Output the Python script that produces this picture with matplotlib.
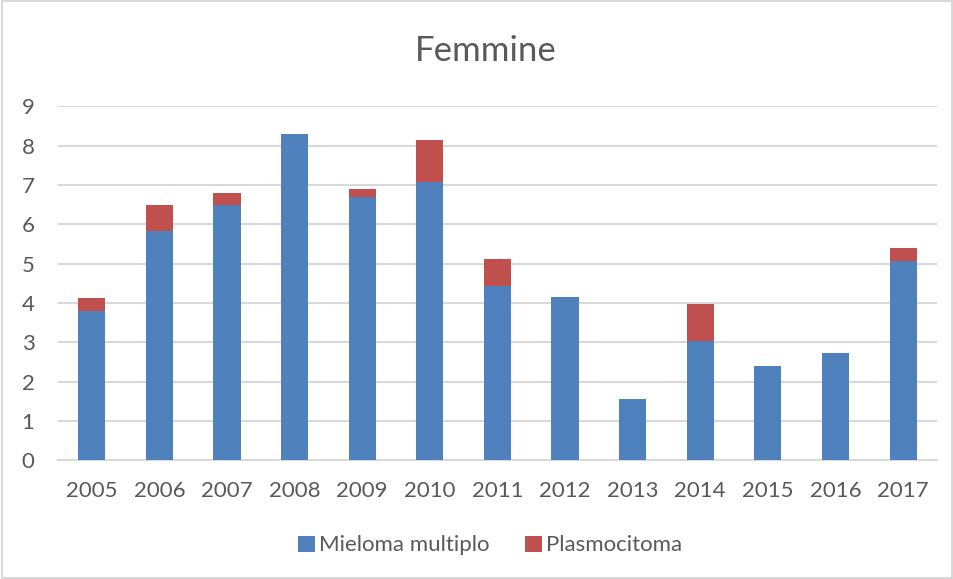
import matplotlib
matplotlib.use('Agg')
import matplotlib.pyplot as plt
import numpy as np

plt.rcParams['font.family'] = ['Lato', 'DejaVu Sans']

YEARS = ['2005', '2006', '2007', '2008', '2009', '2010', '2011',
         '2012', '2013', '2014', '2015', '2016', '2017']
# valori
MIELOMA = [3.81, 5.84, 6.48, 8.30, 6.69, 7.08, 4.44, 4.16, 1.55, 3.03, 2.41, 2.72, 5.08]
PLASMOCITOMA = [0.33, 0.65, 0.32, 0.0, 0.22, 1.06, 0.69, 0.0, 0.0, 0.94, 0.0, 0.0, 0.32]

BLUE = '#4f81bd'
RED = '#c0504d'
GRID = '#d9d9d9'
TEXT = '#595959'

fig = plt.figure(figsize=(9.54, 5.79), dpi=100)
ax = fig.add_axes([0.0608, 0.2047, 0.9212, 0.6117])

x = np.arange(len(YEARS))
w = 0.4
ax.bar(x, MIELOMA, width=w, color=BLUE, label='Mieloma multiplo', zorder=3)
ax.bar(x, PLASMOCITOMA, width=w, bottom=MIELOMA, color=RED, label='Plasmocitoma', zorder=3)

ax.set_xlim(-0.5, len(YEARS) - 0.5)
ax.set_ylim(0, 9)
ax.set_yticks(range(10))
ax.set_xticks(x)
ax.set_xticklabels(YEARS)
ax.tick_params(axis='both', length=0, labelsize=16, colors=TEXT)
ax.tick_params(axis='y', pad=17)
ax.tick_params(axis='x', pad=15)
ax.grid(axis='y', color=GRID, linewidth=1.5, zorder=0)
for s in ['top', 'right', 'left']:
    ax.spines[s].set_visible(False)
ax.spines['bottom'].set_color(GRID)
ax.spines['bottom'].set_linewidth(1.5)

fig.text(0.509, 0.912, 'Femmine', ha='center', va='center', fontsize=25, color=TEXT)

leg = fig.legend(loc='center', bbox_to_anchor=(0.514, 0.058), ncol=2, frameon=False,
                 fontsize=16, handlelength=0.75, handleheight=0.75, columnspacing=1.6,
                 handletextpad=0.2)
for t in leg.get_texts():
    t.set_color(TEXT)

# bordo esterno del grafico
fig.patches.append(plt.Rectangle((0.002, 0.002), 0.996, 0.996, transform=fig.transFigure,
                                 fill=False, edgecolor=GRID, linewidth=1.5))

fig.savefig('out.png', dpi=100)
